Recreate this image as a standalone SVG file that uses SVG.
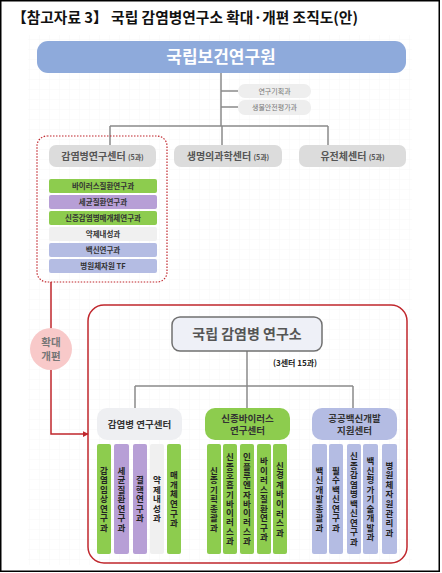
<svg xmlns="http://www.w3.org/2000/svg" width="442" height="573" viewBox="0 0 442 573">
<defs>
<pattern id="grid" width="10" height="10" patternUnits="userSpaceOnUse">
<path d="M10 0V10M0 10H10" fill="none" stroke="#f4f4f4" stroke-width="0.6"/>
</pattern>
<marker id="arr" viewBox="0 0 8 8" refX="7" refY="4" markerWidth="6" markerHeight="6" orient="auto" markerUnits="userSpaceOnUse">
<path d="M0 0L8 4L0 8Z" fill="#c0272d"/>
</marker>
<style>
text{font-family:"Noto Sans CJK KR","Noto Sans",sans-serif;}
.title{font-size:14.5px;font-weight:700;fill:#111;}
.gl{fill:none;stroke:#8a8a8a;stroke-width:1.5;}
.pill{fill:#eeeeee;}
.pt{font-size:7px;fill:#777;text-anchor:middle;}
.cb{fill:#dcdcdc;}
.ct{font-size:10px;font-weight:700;fill:#555;text-anchor:middle;}
.cs{font-size:7px;}
.g{fill:#8dcc4e;}
.p{fill:#b79fd6;}
.l{fill:#b4bce3;}
.w{fill:#f0f0f0;}
.it{font-size:7.5px;font-weight:700;fill:#333;text-anchor:middle;}
.vt{font-size:8.5px;font-weight:700;fill:#222;text-anchor:middle;writing-mode:vertical-rl;text-orientation:upright;}
.ht{font-size:9.5px;font-weight:700;fill:#333;text-anchor:middle;}
</style>
</defs>
<rect x="0" y="0" width="442" height="573" fill="#fff"/>
<rect x="28" y="35" width="384" height="530" fill="url(#grid)"/>
<rect x="0.75" y="0.75" width="438.5" height="570.5" fill="none" stroke="#000" stroke-width="1.5"/>
<text class="title" x="12" y="23" textLength="346" lengthAdjust="spacingAndGlyphs">【참고자료 3】 국립 감염병연구소 확대·개편 조직도(안)</text>

<g id="connectors">
<path class="gl" d="M221 73V126M221 91H238M221 107H238M110 126H328M110 126V145M222 126V145M328 126V145"/>
<path class="gl" d="M247 351V386M135 386H353M135 386V408M247 386V408M353 386V408"/>
<path d="M51 282V434H88" fill="none" stroke="#c0272d" stroke-width="1.5" marker-end="url(#arr)"/>
</g>

<g id="nih">
<rect x="37" y="41" width="369" height="32" rx="11" fill="#8eaadb"/>
<text x="221" y="63" font-size="17" font-weight="700" fill="#fff" text-anchor="middle">국립보건연구원</text>
</g>
<g id="plan">
<rect class="pill" x="238" y="84" width="73" height="14" rx="7"/>
<text class="pt" x="274.5" y="93.5">연구기획과</text>
</g>
<g id="biosafety">
<rect class="pill" x="238" y="100" width="73" height="15" rx="7"/>
<text class="pt" x="274.5" y="110">생물안전평가과</text>
</g>

<g id="old-infect">
<rect x="37" y="136" width="130" height="146" rx="10" fill="none" stroke="#c0272d" stroke-width="1.2" stroke-dasharray="1.5 1.5"/>
<rect class="cb" x="49" y="145" width="107" height="22" rx="7"/>
<text class="ct" x="102.5" y="160">감염병연구센터 <tspan class="cs">(5과)</tspan></text>
<rect class="g" x="49" y="179" width="108" height="14" rx="2"/>
<text class="it" x="103" y="189">바이러스질환연구과</text>
<rect class="p" x="49" y="195" width="108" height="14" rx="2"/>
<text class="it" x="103" y="205">세균질환연구과</text>
<rect class="g" x="49" y="211" width="108" height="14" rx="2"/>
<text class="it" x="103" y="221">신종감염병매개체연구과</text>
<rect class="w" x="49" y="227" width="108" height="14" rx="2"/>
<text class="it" x="103" y="237">약제내성과</text>
<rect class="l" x="49" y="243" width="108" height="14" rx="2"/>
<text class="it" x="103" y="253">백신연구과</text>
<rect class="l" x="49" y="259" width="108" height="14" rx="2"/>
<text class="it" x="103" y="269">병원체자원 TF</text>
</g>
<g id="old-bio">
<rect class="cb" x="174" y="145" width="108" height="22" rx="7"/>
<text class="ct" x="228" y="160">생명의과학센터 <tspan class="cs">(5과)</tspan></text>
</g>
<g id="old-genome">
<rect class="cb" x="299" y="145" width="107" height="22" rx="7"/>
<text class="ct" x="352.5" y="160">유전체센터 <tspan class="cs">(5과)</tspan></text>
</g>

<g id="expand">
<circle cx="51" cy="349" r="21" fill="#f8c9c9"/>
<text font-size="10.5" font-weight="700" fill="#777" text-anchor="middle"><tspan x="51" y="346">확대</tspan><tspan x="51" y="360">개편</tspan></text>
</g>

<g id="new-org">
<rect x="88" y="305" width="319" height="258" rx="16" fill="none" stroke="#c0272d" stroke-width="1.5"/>
</g>
<g id="nidi">
<rect x="172" y="317" width="150" height="34" rx="8" fill="#eef0f7" stroke="#707070" stroke-width="1.5"/>
<text x="247" y="339" font-size="14" font-weight="700" fill="#555" text-anchor="middle">국립 감염병 연구소</text>
<text x="295" y="366" font-size="8" font-weight="700" fill="#222" text-anchor="middle">(3센터 15과)</text>
</g>

<g id="new-infect">
<rect x="97" y="408" width="85" height="32" rx="10" fill="#eeeff2"/>
<text class="ht" x="139.5" y="427.5">감염병 연구센터</text>
<rect class="g" x="97" y="444" width="14" height="110" rx="2"/>
<text class="vt" x="104" y="499" textLength="65.8" lengthAdjust="spacing">감염임상연구과</text>
<rect class="p" x="114" y="444" width="15" height="110" rx="2"/>
<text class="vt" x="121.5" y="499" textLength="65.8" lengthAdjust="spacing">세균질환연구과</text>
<rect class="p" x="133" y="444" width="14" height="110" rx="2"/>
<text class="vt" x="140" y="499" textLength="47" lengthAdjust="spacing">결핵연구과</text>
<rect class="w" x="150" y="444" width="14" height="110" rx="2"/>
<text class="vt" x="157" y="499" textLength="47" lengthAdjust="spacing">약제내성과</text>
<rect class="g" x="167" y="444" width="14" height="110" rx="2"/>
<text class="vt" x="174" y="499" textLength="56.4" lengthAdjust="spacing">매개체연구과</text>
</g>

<g id="new-virus">
<rect class="g" x="205" y="408" width="85" height="32" rx="10"/>
<text class="ht" x="247.5" y="421.5">신종바이러스</text>
<text class="ht" x="247.5" y="434">연구센터</text>
<rect class="g" x="207" y="444" width="14" height="110" rx="2"/>
<text class="vt" x="214" y="499" textLength="65.8" lengthAdjust="spacing">신종기획총괄과</text>
<rect class="g" x="223" y="444" width="14" height="110" rx="2"/>
<text class="vt" x="230" y="499" textLength="92" lengthAdjust="spacing">신종호흡기바이러스과</text>
<rect class="g" x="240" y="444" width="14" height="110" rx="2"/>
<text class="vt" x="247" y="499" textLength="92" lengthAdjust="spacing">인플루엔자바이러스과</text>
<rect class="g" x="257" y="444" width="14" height="110" rx="2"/>
<text class="vt" x="264" y="499" textLength="84.6" lengthAdjust="spacing">바이러스질환연구과</text>
<rect class="g" x="273" y="444" width="14" height="110" rx="2"/>
<text class="vt" x="280" y="499" textLength="75.2" lengthAdjust="spacing">신경계바이러스과</text>
</g>

<g id="new-vaccine">
<rect class="l" x="312" y="408" width="85" height="32" rx="10"/>
<text class="ht" x="354.5" y="421.5">공공백신개발</text>
<text class="ht" x="354.5" y="434">지원센터</text>
<rect class="l" x="312" y="444" width="15" height="110" rx="2"/>
<text class="vt" x="319.5" y="499" textLength="65.8" lengthAdjust="spacing">백신개발총괄과</text>
<rect class="l" x="329" y="444" width="14" height="110" rx="2"/>
<text class="vt" x="336" y="499" textLength="65.8" lengthAdjust="spacing">필수백신연구과</text>
<rect class="l" x="347" y="444" width="14" height="110" rx="2"/>
<text class="vt" x="354" y="499" textLength="94" lengthAdjust="spacing">신종감염병백신연구과</text>
<rect class="l" x="363" y="444" width="15" height="110" rx="2"/>
<text class="vt" x="370.5" y="499" textLength="84.6" lengthAdjust="spacing">백신평가기술개발과</text>
<rect class="l" x="382" y="444" width="15" height="110" rx="2"/>
<text class="vt" x="389.5" y="499" textLength="75.2" lengthAdjust="spacing">병원체자원관리과</text>
</g>
</svg>
